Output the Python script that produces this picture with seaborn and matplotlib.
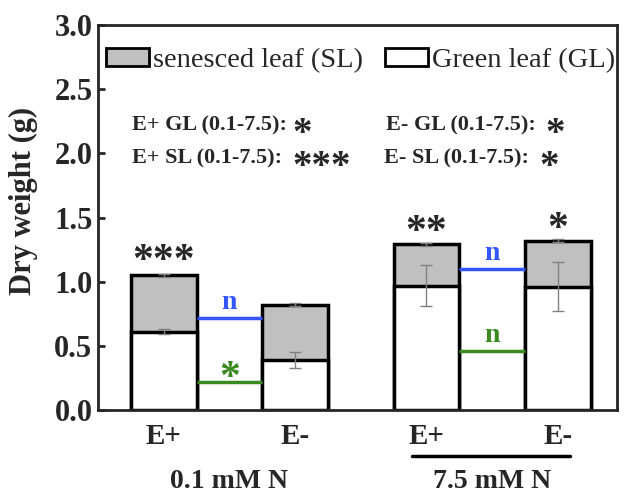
import matplotlib
matplotlib.use("Agg")
import matplotlib.pyplot as plt
import seaborn as sns
import pandas as pd
from matplotlib.patches import Patch

# bar data (g)
groups = ["0.1 E+", "0.1 E-", "7.5 E+", "7.5 E-"]
tick_labels = ["E+", "E-", "E+", "E-"]
green_leaf = [0.61, 0.39, 0.97, 0.96]
total_weight = [1.05, 0.82, 1.29, 1.32]
green_err = [0.02, 0.06, 0.16, 0.19]
total_err = [0.01, 0.01, 0.01, 0.01]
bar_stars = ["***", "", "**", "*"]
star_y = [1.15, 0, 1.38, 1.40]

# comparison lines between E+ and E- within each N level
cmp_x = [(0.25, 0.75), (2.25, 2.75)]
sl_line_y = [0.72, 1.10]
gl_line_y = [0.22, 0.46]
sl_marks = ["n", "n"]
gl_marks = ["*", "n"]

df = pd.DataFrame({"group": groups, "GL": green_leaf, "total": total_weight})

sns.set_style("ticks")
plt.rcParams["font.family"] = ["Liberation Serif", "DejaVu Serif"]

fig = plt.figure(figsize=(6.24, 4.93), dpi=100)
ax = fig.add_axes([98 / 624, 1 - 410 / 493, 519 / 624, 385 / 493])

sns.barplot(data=df, x="group", y="total", order=groups, color="#c0c0c0",
            edgecolor="black", linewidth=2.5, width=0.5, saturation=1, ax=ax)
sns.barplot(data=df, x="group", y="GL", order=groups, color="white",
            edgecolor="black", linewidth=2.5, width=0.5, saturation=1, ax=ax)

xs = list(range(len(groups)))
ax.errorbar(xs, total_weight, yerr=total_err, fmt="none", ecolor="gray",
            elinewidth=1, capsize=4, capthick=1)
ax.errorbar(xs, green_leaf, yerr=green_err, fmt="none", ecolor="gray",
            elinewidth=1, capsize=4, capthick=1)

for x, s, y in zip(xs, bar_stars, star_y):
    if s:
        ax.text(x, y, s, ha="center", va="center", fontsize=30,
                fontweight="bold")

for (x0, x1), ys, yg, ms, mg in zip(cmp_x, sl_line_y, gl_line_y, sl_marks, gl_marks):
    ax.plot([x0, x1], [ys, ys], color="#3355ff", lw=2.5, solid_capstyle="butt")
    ax.plot([x0, x1], [yg, yg], color="#3a8a20", lw=2.5, solid_capstyle="butt")
    fs_s = 20 if ms == "n" else 30
    fs_g = 20 if mg == "n" else 30
    ax.text((x0 + x1) / 2, ys + 0.1 + (0.02 if ms == "n" else -0.08), ms,
            ha="center", va="center", color="#3355ff", fontsize=fs_s,
            fontweight="bold")
    ax.text((x0 + x1) / 2, yg + 0.1 + (0.02 if mg == "n" else -0.08), mg,
            ha="center", va="center", color="#3a8a20", fontsize=fs_g,
            fontweight="bold")

# significance between N levels
ann_labels = ["E+ GL (0.1-7.5):", "E+ SL (0.1-7.5):",
              "E- GL (0.1-7.5):", "E- SL (0.1-7.5):"]
ann_stars = ["*", "***", "*", "*"]
ann_x = [-0.245, -0.245, 1.69, 1.68]
ann_y = [2.22, 1.96, 2.22, 1.96]
ann_star_x = [1.05, 1.2, 2.98, 2.93]
for lab, st, x, y, sx in zip(ann_labels, ann_stars, ann_x, ann_y, ann_star_x):
    ax.text(x, y, lab, ha="left", va="center", fontsize=16, fontweight="bold")
    ax.text(sx, y - 0.07, st, ha="center", va="center", fontsize=28,
            fontweight="bold")

ax.set_xlim(-0.5, 3.45)
ax.set_ylim(0, 3.0)
ax.set_yticks([0, 0.5, 1.0, 1.5, 2.0, 2.5, 3.0])
ax.set_yticklabels(["0.0", "0.5", "1.0", "1.5", "2.0", "2.5", "3.0"],
                   fontsize=22, fontweight="bold")
ax.set_xticks(xs)
ax.set_xticklabels(tick_labels, fontsize=21, fontweight="bold")
ax.tick_params(direction="in", width=2, length=5)
ax.tick_params(axis="y", pad=4)
ax.tick_params(axis="x", pad=9)
ax.set_xlabel("")
ax.set_ylabel("Dry weight (g)", fontsize=22, fontweight="bold")
ax.yaxis.set_label_coords(-0.115, 0.543)
for sp in ax.spines.values():
    sp.set_linewidth(2)

# N level labels under the categories
ax.text(0.5, -0.56, "0.1 mM N", ha="center", va="center", fontsize=20,
        fontweight="bold", clip_on=False)
ax.text(2.5, -0.56, "7.5 mM N", ha="center", va="center", fontsize=20,
        fontweight="bold", clip_on=False)
ax.plot([1.89, 3.09], [-0.36, -0.36], color="black", lw=2.5, clip_on=False)

handles = [Patch(facecolor="#c0c0c0", edgecolor="black", linewidth=2),
           Patch(facecolor="white", edgecolor="black", linewidth=2)]
ax.legend(handles, ["senesced leaf (SL)", "Green leaf (GL)"], ncol=2,
          loc="upper left", bbox_to_anchor=(0.016, 0.94), frameon=False,
          fontsize=20.5, handlelength=1.5, handleheight=0.6, handletextpad=0.15,
          columnspacing=0.78, borderpad=0, borderaxespad=0)

fig.savefig("out.png", dpi=100)
